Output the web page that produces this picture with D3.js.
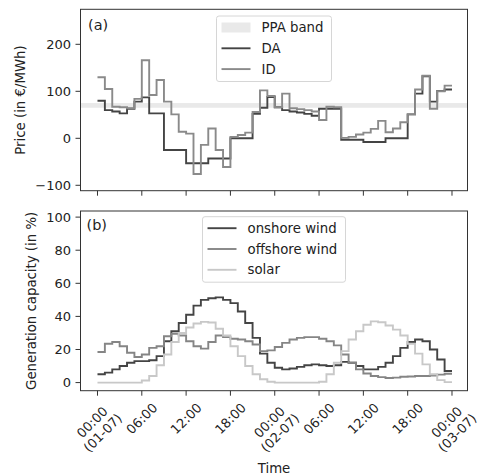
<!DOCTYPE html>
<html>
<head>
<meta charset="utf-8">
<script src="https://cdn.jsdelivr.net/npm/d3@7"></script>
<style>
  body { margin: 0; background: #fff; }
  svg text { font-family: "DejaVu Sans", sans-serif; fill: #222; }
</style>
</head>
<body>
<div id="chart"></div>
<script>
// hourly values, hour 0 = 00:00 01-07
const daPrice = [80, 60, 57, 53, 63, 78, 87, 53, 53, -25, -25, -25, -53, -53, -53, -43, -43, -43, 0, 0, 0, 52, 65, 88,
  66, 60, 57, 55, 52, 48, 63, 63, 63, -3, -3, -3, -8, -8, -8, 0, 0, 0, 51, 95, 132, 78, 101, 104]
const idPrice = [130, 105, 67, 66, 64, 84, 166, 92, 124, 78, 51, 14, 10, -76, -14, 21, -25, -61, 3, 7, 12, 56, 102, 90,
  66, 95, 64, 62, 60, 57, 39, 67, 66, 1, 3, 8, 12, 20, 37, 13, 21, 34, 51, 104, 133, 63, 100, 112]
const ppaBand = [65, 75]

const onshore = [5, 6, 8, 10, 12, 13, 13, 13.5, 16, 25, 31, 36, 41, 46.5, 50, 51, 51.5, 50, 48, 43, 36, 27, 17.5, 12,
  9, 8, 8.5, 9.5, 10.5, 11, 10.5, 10, 10.5, 12.5, 12, 10, 8, 8, 9.5, 12, 16, 21, 24.5, 26, 25, 20, 14, 7]
const offshore = [18.5, 23.5, 24.5, 22, 18, 15.5, 17, 21, 22, 28, 29.5, 28.5, 25, 22, 20.5, 24.5, 28.5, 27.5, 26.5, 26, 25, 23, 19, 19.5,
  21.5, 24, 26, 27, 27.5, 27.5, 26.5, 25, 22.5, 17, 12, 8, 5.5, 4, 3.3, 2.8, 3, 3.5, 3.7, 4, 4, 4.3, 4.8, 5.3]
const solar = [0, 0, 0, 0, 0, 0, 1.3, 4, 10.5, 17, 24.5, 30, 33.3, 35.7, 36.7, 36.3, 32.5, 28.5, 22, 16, 10, 5, 2, 0.5,
  0, 0, 0, 0, 0, 0, 0.5, 5, 12, 19, 26, 31, 35, 37, 36.5, 34.5, 32, 28.5, 23.5, 17.5, 11, 5, 1.5, 0.3]

const tickHours = [0, 6, 12, 18, 24, 30, 36, 42, 48]
const tickLabels = ["00:00\n(01-07)", "06:00", "12:00", "18:00", "00:00\n(02-07)", "06:00", "12:00", "18:00", "00:00\n(03-07)"]
const priceTicks = [-100, 0, 100, 200]
const capTicks = [0, 20, 40, 60, 80, 100]

const width = 482, height = 476
const left = 80.5, right = 467.5
const axisColor = "#333"
const tickFont = 13, labelFont = 13.3

const svg = d3.select("#chart").append("svg")
  .attr("width", width)
  .attr("height", height)

const x = d3.scaleLinear().domain([-2.3, 50.1]).range([left, right])

// step series: hourly values held to the next hour, closed at 48
function toSteps(vals) {
  var pts = vals.map((v, i) => [i, v])
  pts.push([vals.length, vals[vals.length - 1]])
  return pts
}

function drawPanel(top, bottom, yDomain, yTicks, ylabel, ylabelX, tag) {
  const y = d3.scaleLinear().domain(yDomain).range([bottom, top])
  const g = svg.append("g")

  g.append("defs").append("clipPath").attr("id", "clip" + tag)
    .append("rect").attr("x", left).attr("y", top).attr("width", right - left).attr("height", bottom - top)

  const plot = g.append("g").attr("clip-path", "url(#clip" + tag + ")")

  // y axis ticks
  yTicks.forEach(function(t) {
    g.append("line")
      .attr("x1", left - 5).attr("x2", left)
      .attr("y1", y(t)).attr("y2", y(t))
      .attr("stroke", axisColor).attr("stroke-width", 1)
    g.append("text")
      .attr("x", left - 9.5)
      .attr("y", y(t))
      .attr("dy", "0.35em")
      .attr("text-anchor", "end")
      .attr("font-size", tickFont)
      .text(d3.format("")(t))
  })

  tickHours.forEach(function(h) {
    g.append("line")
      .attr("x1", x(h)).attr("x2", x(h))
      .attr("y1", bottom).attr("y2", bottom + 5)
      .attr("stroke", axisColor).attr("stroke-width", 1)
  })

  g.append("text")
    .attr("transform", `translate(${ylabelX},${(top + bottom) / 2}) rotate(-90)`)
    .attr("text-anchor", "middle")
    .attr("dy", "0.35em")
    .attr("font-size", labelFont)
    .text(ylabel)

  return {y: y, plot: plot, g: g, top: top, bottom: bottom}
}

function frame(p) {
  p.g.append("rect")
    .attr("x", left).attr("y", p.top)
    .attr("width", right - left).attr("height", p.bottom - p.top)
    .attr("fill", "none").attr("stroke", axisColor).attr("stroke-width", 1)
}

function legend(p, items, boxTop, boxH, boxW) {
  const cx = (left + right) / 2
  const lg = p.g.append("g").attr("transform", `translate(${cx - boxW / 2},${boxTop})`)
  lg.append("rect")
    .attr("width", boxW).attr("height", boxH)
    .attr("rx", 2.5)
    .attr("fill", "rgba(255,255,255,0.85)")
    .attr("stroke", "#d6d6d6").attr("stroke-width", 1)
  items.forEach(function(it, i) {
    var cy = 11.5 + i * 20.8
    if (it.band) {
      lg.append("rect")
        .attr("x", 5).attr("y", cy - 5)
        .attr("width", 29).attr("height", 10)
        .attr("fill", it.color)
    } else {
      lg.append("line")
        .attr("x1", 5).attr("x2", 34)
        .attr("y1", cy).attr("y2", cy)
        .attr("stroke", it.color).attr("stroke-width", 1.9)
    }
    lg.append("text")
      .attr("x", 45).attr("y", cy)
      .attr("dy", "0.35em")
      .attr("font-size", labelFont)
      .text(it.name)
  })
}

const line = (p) => d3.line().curve(d3.curveStepAfter).x(d => x(d[0])).y(d => p.y(d[1]))

// (a) prices
const pa = drawPanel(9.3, 190.7, [-111.5, 274.5], priceTicks, "Price (in €/MWh)", 20, "a")

pa.plot.append("rect")
  .attr("x", left).attr("width", right - left)
  .attr("y", pa.y(ppaBand[1]))
  .attr("height", pa.y(ppaBand[0]) - pa.y(ppaBand[1]))
  .attr("fill", "#e9e9e9")

pa.plot.append("path").datum(toSteps(daPrice))
  .attr("fill", "none").attr("stroke", "#444").attr("stroke-width", 1.9)
  .attr("d", line(pa))
pa.plot.append("path").datum(toSteps(idPrice))
  .attr("fill", "none").attr("stroke", "#8a8a8a").attr("stroke-width", 1.9)
  .attr("d", line(pa))

frame(pa)
pa.g.append("text").attr("x", 88).attr("y", 25).attr("dy", "0.35em").attr("font-size", 14.5).text("(a)")
legend(pa, [
  {name: "PPA band", color: "#e9e9e9", band: true},
  {name: "DA", color: "#444"},
  {name: "ID", color: "#8a8a8a"}
], 16, 65.5, 115)

// (b) generation capacity
const pb = drawPanel(211, 390.7, [-4.9, 103.7], capTicks, "Generation capacity (in %)", 31, "b")

const genSeries = [
  {name: "onshore wind", vals: onshore, color: "#444"},
  {name: "offshore wind", vals: offshore, color: "#858585"},
  {name: "solar", vals: solar, color: "#c8c8c8"}
]

genSeries.forEach(function(s) {
  pb.plot.append("path").datum(toSteps(s.vals))
    .attr("fill", "none").attr("stroke", s.color).attr("stroke-width", 1.9)
    .attr("d", line(pb))
})

frame(pb)
pb.g.append("text").attr("x", 86.5).attr("y", 225).attr("dy", "0.35em").attr("font-size", 14.5).text("(b)")
legend(pb, genSeries, 216.7, 65.5, 143)

// rotated x tick labels, centred under the tick like matplotlib
tickHours.forEach(function(h, i) {
  var lines = tickLabels[i].split("\n")
  var lh = 15
  var tg = svg.append("g")
  var texts = lines.map(function(s, j) {
    return tg.append("text")
      .attr("text-anchor", "middle")
      .attr("font-size", tickFont)
      .attr("y", (j - (lines.length - 1) / 2) * lh)
      .attr("dy", "0.35em")
      .text(s)
  })
  var w = d3.max(texts, t => t.node().getComputedTextLength())
  var hgt = lines.length * lh
  var half = (w + hgt) / (2 * Math.SQRT2)
  tg.attr("transform", `translate(${x(h)},${400 + half}) rotate(-45)`)
})

svg.append("text")
  .attr("x", (left + right) / 2)
  .attr("y", 468)
  .attr("dy", "0.35em")
  .attr("text-anchor", "middle")
  .attr("font-size", labelFont)
  .text("Time")
</script>
</body>
</html>
